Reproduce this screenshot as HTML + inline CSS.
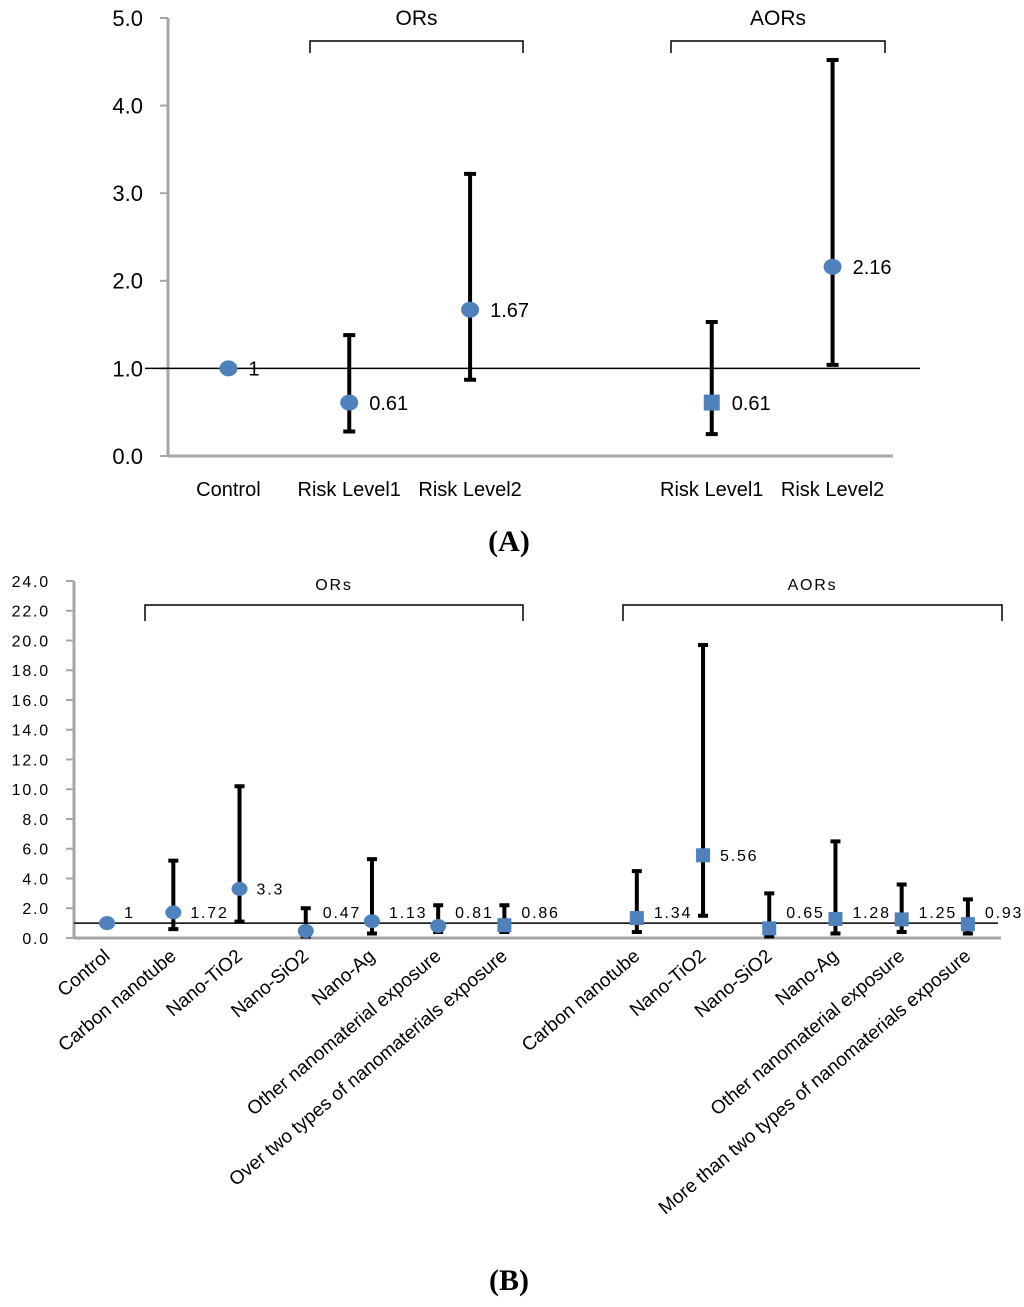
<!DOCTYPE html>
<html><head><meta charset="utf-8"><style>
body{margin:0;background:#fff;width:1024px;height:1307px;overflow:hidden}
svg{display:block}
text{font-family:"Liberation Sans",sans-serif;fill:#000}
</style></head><body>
<svg id="svg" width="1024" height="1307" viewBox="0 0 1024 1307" xmlns="http://www.w3.org/2000/svg">
<g id="chartA"></g>
<g id="chartB"></g>
<text x="509" y="551" text-anchor="middle" font-weight="bold" font-size="30" style="font-family:'Liberation Serif',serif">(A)</text>
<text x="509" y="1290" text-anchor="middle" font-weight="bold" font-size="30" style="font-family:'Liberation Serif',serif">(B)</text>
</svg>
<script>
// ---- Chart A data ----
const aCategories = ["Control","Risk Level1","Risk Level2","","Risk Level1","Risk Level2"];
const aValues = [1,0.61,1.67,null,0.61,2.16];
const aLow = [null,0.28,0.87,null,0.25,1.04];
const aHigh = [null,1.38,3.22,null,1.53,4.52];
const aLabels = ["1","0.61","1.67","","0.61","2.16"];
const aShapes = ["circle","circle","circle","","square","circle"];
const aTicks = ["0.0","1.0","2.0","3.0","4.0","5.0"];
const aTickValues = [0,1,2,3,4,5];

// ---- Chart B data ----
const bCategories = ["Control","Carbon nanotube","Nano-TiO2","Nano-SiO2","Nano-Ag","Other nanomaterial exposure","Over two types of nanomaterials exposure","","Carbon nanotube","Nano-TiO2","Nano-SiO2","Nano-Ag","Other nanomaterial exposure","More than two types of nanomaterials exposure"];
const bValues = [1,1.72,3.3,0.47,1.13,0.81,0.86,null,1.34,5.56,0.65,1.28,1.25,0.93];
const bLow = [null,0.6,1.1,0.1,0.3,0.4,0.4,null,0.4,1.5,0.1,0.3,0.4,0.3];
const bHigh = [null,5.2,10.2,2.0,5.3,2.2,2.2,null,4.5,19.7,3.0,6.5,3.6,2.6];
const bLabels = ["1","1.72","3.3","0.47","1.13","0.81","0.86","","1.34","5.56","0.65","1.28","1.25","0.93"];
const bShapes = ["circle","circle","circle","circle","circle","circle","square","","square","square","square","square","square","square"];
const bTickValues = [0,2,4,6,8,10,12,14,16,18,20,22,24];
const bTicks = ["0.0","2.0","4.0","6.0","8.0","10.0","12.0","14.0","16.0","18.0","20.0","22.0","24.0"];

const NS="http://www.w3.org/2000/svg";
function mk(parent,tag,attrs){const e=document.createElementNS(NS,tag);for(const k in attrs)e.setAttribute(k,attrs[k]);parent.appendChild(e);return e;}

function drawChart(g,cfg){
  const {x0,x1,y0,yTop,vmax,n,cats,vals,lo,hi,labs,shapes,ticks,tickVals,tickFs,catFs,valFs,rot,refX0,refX1,capW,mk_r,ls}=cfg;
  const Y=v=>y0-(v/vmax)*(y0-yTop);
  const slot=(x1-x0)/n;
  const X=i=>x0+slot*(i+0.5);
  let e=mk(g,'line',{x1:x0,y1:yTop,x2:x0,y2:y0,stroke:'#a6a6a6','stroke-width':3});
  
  e=mk(g,'line',{x1:x0,y1:y0,x2:x1,y2:y0,stroke:'#a6a6a6','stroke-width':3});
  
  tickVals.forEach((v,i)=>{
    const t=mk(g,'line',{x1:x0-8,y1:Y(v),x2:x0,y2:Y(v),stroke:'#a6a6a6','stroke-width':2});
    
    const tx=mk(g,'text',{x:x0-cfg.tickGap,y:Y(v)+tickFs*0.36,'text-anchor':'end','font-size':tickFs,'letter-spacing':ls});
    tx.textContent=ticks[i];
    
  });
  e=mk(g,'line',{x1:refX0,y1:Y(1),x2:refX1,y2:Y(1),stroke:'#000','stroke-width':1.5});
  
  for(let i=0;i<n;i++){
    if(cats[i]){
      let tx;
      if(rot){
        const ax=X(i)+4, ay=y0+20;
        tx=mk(g,'text',{x:ax,y:ay,'text-anchor':'end','font-size':catFs,transform:`rotate(-40 ${ax} ${ay})`});
      } else {
        tx=mk(g,'text',{x:X(i),y:y0+40,'text-anchor':'middle','font-size':catFs});
      }
      tx.textContent=cats[i];
      
    }
    if(vals[i]==null)continue;
    if(lo[i]!=null){
      const eb=mk(g,'path',{d:`M${X(i)},${Y(lo[i])}V${Y(hi[i])}M${X(i)-capW},${Y(lo[i])}H${X(i)+capW}M${X(i)-capW},${Y(hi[i])}H${X(i)+capW}`,stroke:'#000','stroke-width':4,fill:'none'});
      
    }
    let m;
    if(shapes[i]==='square') m=mk(g,'rect',{x:X(i)-mk_r,y:Y(vals[i])-mk_r,width:mk_r*2,height:mk_r*2,fill:'#4f81bd'});
    else m=mk(g,'ellipse',{cx:X(i),cy:Y(vals[i]),rx:mk_r+1,ry:mk_r,fill:'#4f81bd'});
    
    let ly=Y(vals[i])+valFs*0.36;
    if(cfg.clampY) ly=Math.min(ly,cfg.clampY);
    const vl=mk(g,'text',{x:X(i)+cfg.lblDx,y:ly,'font-size':valFs,'letter-spacing':ls});
    vl.textContent=labs[i];
    
  }
  return {X,Y};
}
function bracket(g,xa,xb,y,h,label,ly,fs,ls){
  const p=mk(g,'path',{d:`M${xa},${y+h}V${y}H${xb}V${y+h}`,stroke:'#000','stroke-width':1.5,fill:'none'});
  
  const t=mk(g,'text',{x:(xa+xb)/2,y:ly,'text-anchor':'middle','font-size':fs,'letter-spacing':ls});
  t.textContent=label;
  
}
const gA=document.getElementById('chartA');
drawChart(gA,{x0:168,x1:893,y0:456,yTop:18,vmax:5,n:6,cats:aCategories,vals:aValues,lo:aLow,hi:aHigh,labs:aLabels,shapes:aShapes,ticks:aTicks,tickVals:aTickValues,tickFs:22,catFs:20,valFs:20,rot:false,refX0:145,refX1:920,capW:6,mk_r:8,ls:0,lblDx:20,tickGap:25});
bracket(gA,310,523,41,12,"ORs",25,21,0);
bracket(gA,671,885,41,12,"AORs",25,21,0);
const gB=document.getElementById('chartB');
drawChart(gB,{x0:74,x1:1001,y0:938,yTop:581,vmax:24,n:14,cats:bCategories,vals:bValues,lo:bLow,hi:bHigh,labs:bLabels,shapes:bShapes,ticks:bTicks,tickVals:bTickValues,tickFs:16,catFs:19,valFs:16,rot:true,refX0:74,refX1:998,capW:5,mk_r:7,ls:1.8,lblDx:17,clampY:918,tickGap:24});
bracket(gB,145,523,605,16,"ORs",590,16,1.8);
bracket(gB,623,1002,605,16,"AORs",590,16,1.8);
</script>
</body></html>
